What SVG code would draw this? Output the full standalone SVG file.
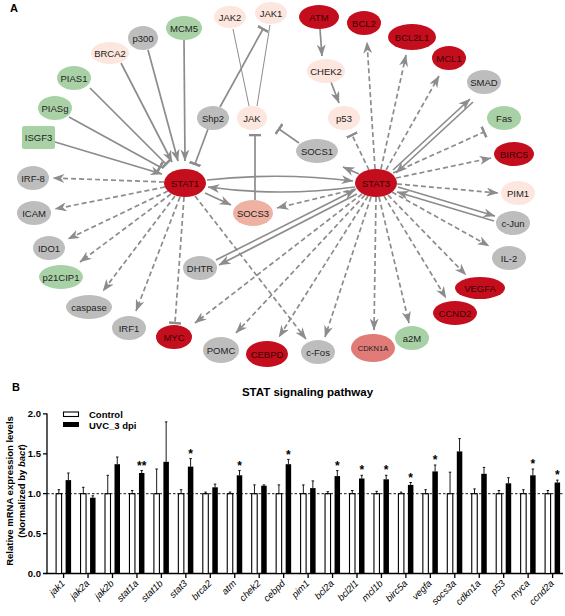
<svg xmlns="http://www.w3.org/2000/svg" width="565" height="616" viewBox="0 0 565 616">
<style>
text{font-family:"Liberation Sans",Arial,sans-serif}
.n text{font-size:9.5px;fill:#222;text-anchor:middle}
.red ellipse{fill:#c40e1e}
.red text{fill:#3a0000}
.pale ellipse{fill:#fde6dd}
.grn ellipse,.grn rect{fill:#a9d1a6}
.gry ellipse{fill:#bdbdbd}
.s{stroke:#8c8c8c;stroke-width:1.7;fill:none}
.t{stroke:#8c8c8c;stroke-width:1;fill:none}
.d{stroke:#8c8c8c;stroke-width:1.7;fill:none;stroke-dasharray:5 3}
.ar{marker-end:url(#arr)}
.tb{marker-end:url(#tbar)}
.ax{stroke:#000;stroke-width:1.3;fill:none}
.cb{fill:#fff;stroke:#000;stroke-width:1.1}
.tbk{fill:#000}
.eb{stroke:#000;stroke-width:0.9;fill:none}
.tl{font-size:9.5px;font-weight:bold;text-anchor:end}
.xl{font-size:9.5px;font-style:italic;text-anchor:end}
.st{font-size:12px;font-weight:bold;text-anchor:middle}
</style>
<defs>
<marker id="arr" viewBox="0 0 12 9" markerWidth="12" markerHeight="9" refX="11.5" refY="4.5" orient="auto" markerUnits="userSpaceOnUse">
<path d="M0,0 L12,4.5 L0,9 L3.5,4.5 Z" fill="#8c8c8c" stroke="none"/>
</marker>
<marker id="tbar" viewBox="0 0 3 12" markerWidth="3" markerHeight="12" refX="1.5" refY="6" orient="auto" markerUnits="userSpaceOnUse">
<path d="M1.5,0 L1.5,12" stroke="#8c8c8c" stroke-width="2.6" fill="none"/>
</marker>
</defs>
<text x="10" y="12" style="font-size:11px;font-weight:bold">A</text>
<g id="connectors">
<path class="s ar" d="M55,142 L162,174"/>
<path class="s tb" d="M69,117 L160,167"/>
<path class="s tb" d="M90,88 L166,164"/>
<path class="s ar" d="M121,63 L172,162"/>
<path class="s ar" d="M148,50 L178,161"/>
<path class="s ar" d="M184,40 L185,161"/>
<path class="s tb" d="M208,129 L195,164"/>
<path class="t" d="M249,106 L233,29"/>
<path class="t" d="M257,106 L270,25"/>
<path class="s tb" d="M220,107 L263,29"/>
<path class="s tb" d="M299,143 L279,129"/>
<path class="s tb" d="M255,200 L255,135"/>
<path class="s ar" d="M205,193 L231,205"/>
<path class="s ar" d="M207,180 Q280,172 353,181"/>
<path class="s ar" d="M355,187 Q280,197 208,187"/>
<path class="s ar" d="M359,174 L343,167"/>
<path class="s ar" d="M320,29 L322,56"/>
<path class="s ar" d="M331,82 L339,103"/>
<path class="s ar" d="M357,194 L219,265"/>
<path class="s ar" d="M216,260 L355,190"/>
<path class="s ar" d="M393,170 L470,99"/>
<path class="s ar" d="M473,102 L396,173"/>
<path class="s ar" d="M398,187 L495,216"/>
<path class="s ar" d="M494,221 L397,192"/>
<path class="d ar" d="M164,182 L53,178"/>
<path class="d ar" d="M165,187 L55,209"/>
<path class="d ar" d="M168,191 L68,239"/>
<path class="d ar" d="M171,194 L80,262"/>
<path class="d ar" d="M175,196 L103,291"/>
<path class="d ar" d="M180,197 L136,311"/>
<path class="d tb" d="M184,197 L175,323"/>
<path class="d ar" d="M195,196 L306,339"/>
<path class="d ar" d="M356,189 L277,208"/>
<path class="d ar" d="M362,194 L195,323"/>
<path class="d ar" d="M365,195 L236,333"/>
<path class="d ar" d="M368,196 L279,337"/>
<path class="d ar" d="M371,197 L325,337"/>
<path class="d ar" d="M376,197 L374,330"/>
<path class="d ar" d="M379,197 L409,323"/>
<path class="d ar" d="M384,196 L446,298"/>
<path class="d ar" d="M388,195 L466,275"/>
<path class="d ar" d="M392,192 L489,246"/>
<path class="d ar" d="M397,184 L498,193"/>
<path class="d ar" d="M396,178 L491,158"/>
<path class="d tb" d="M393,173 L484,132"/>
<path class="d ar" d="M386,170 L439,76"/>
<path class="d ar" d="M381,169 L406,55"/>
<path class="d ar" d="M375,169 L367,42"/>
<path class="d tb" d="M369,170 L352,135"/>
</g>
<g class="n">
<g id="JAK2" class="pale"><ellipse cx="230" cy="17" rx="16" ry="11"/><text x="230" y="20.5">JAK2</text></g>
<g id="JAK1" class="pale"><ellipse cx="271" cy="13" rx="16" ry="11"/><text x="271" y="16.5">JAK1</text></g>
<g id="MCM5" class="grn"><ellipse cx="184" cy="28" rx="18" ry="12"/><text x="184" y="31.5">MCM5</text></g>
<g id="p300" class="gry"><ellipse cx="143" cy="38" rx="15" ry="12"/><text x="143" y="41.5">p300</text></g>
<g id="BRCA2" class="pale"><ellipse cx="110" cy="53" rx="19" ry="11"/><text x="110" y="56.5">BRCA2</text></g>
<g id="PIAS1" class="grn"><ellipse cx="74" cy="78" rx="17" ry="12"/><text x="74" y="81.5">PIAS1</text></g>
<g id="PIASg" class="grn"><ellipse cx="55" cy="108" rx="17" ry="12"/><text x="55" y="111.5">PIASg</text></g>
<g id="ISGF3" class="grn"><rect x="22" y="126" width="33" height="23" rx="2"/><text x="38.5" y="141">ISGF3</text></g>
<g id="Shp2" class="gry"><ellipse cx="213" cy="118" rx="16" ry="12"/><text x="213" y="121.5">Shp2</text></g>
<g id="JAK" class="pale"><ellipse cx="252" cy="118" rx="15" ry="12"/><text x="252" y="121.5">JAK</text></g>
<g id="IRF-8" class="gry"><ellipse cx="33" cy="178" rx="16" ry="12"/><text x="33" y="181.5">IRF-8</text></g>
<g id="STAT1" class="red"><ellipse cx="185" cy="183" rx="21" ry="14"/><text x="185" y="186.5">STAT1</text></g>
<g id="ICAM" class="gry"><ellipse cx="34" cy="213" rx="17" ry="12"/><text x="34" y="216.5">ICAM</text></g>
<g id="IDO1" class="gry"><ellipse cx="49" cy="248" rx="16" ry="12"/><text x="49" y="251.5">IDO1</text></g>
<g id="p21CIP1" class="grn"><ellipse cx="61" cy="277" rx="22" ry="12"/><text x="61" y="280.5">p21CIP1</text></g>
<g id="caspase" class="gry"><ellipse cx="89" cy="307" rx="23" ry="12"/><text x="89" y="310.5">caspase</text></g>
<g id="IRF1" class="gry"><ellipse cx="129" cy="328" rx="17" ry="12"/><text x="129" y="331.5">IRF1</text></g>
<g id="MYC" class="red"><ellipse cx="174" cy="337" rx="18" ry="12"/><text x="174" y="340.5">MYC</text></g>
<g id="POMC" class="gry"><ellipse cx="221" cy="350" rx="18" ry="13"/><text x="221" y="353.5">POMC</text></g>
<g id="CEBPD" class="red"><ellipse cx="267" cy="354" rx="21" ry="13"/><text x="267" y="357.5">CEBPD</text></g>
<g id="c-Fos" class="gry"><ellipse cx="318" cy="352" rx="17" ry="12"/><text x="318" y="355.5">c-Fos</text></g>
<g id="CDKN1A"><ellipse cx="373" cy="348" rx="22" ry="14" fill="#e07b77"/><text x="373" y="351" style="font-size:7.5px">CDKN1A</text></g>
<g id="a2M" class="grn"><ellipse cx="412" cy="338" rx="17" ry="12"/><text x="412" y="341.5">a2M</text></g>
<g id="CCND2" class="red"><ellipse cx="455" cy="313" rx="22" ry="12"/><text x="455" y="316.5">CCND2</text></g>
<g id="VEGFA" class="red"><ellipse cx="480" cy="288" rx="25" ry="11"/><text x="480" y="291.5">VEGFA</text></g>
<g id="IL-2" class="gry"><ellipse cx="509" cy="258" rx="17" ry="12"/><text x="509" y="261.5">IL-2</text></g>
<g id="c-Jun" class="gry"><ellipse cx="513" cy="223" rx="17" ry="12"/><text x="513" y="226.5">c-Jun</text></g>
<g id="PIM1" class="pale"><ellipse cx="518" cy="193" rx="17" ry="12"/><text x="518" y="196.5">PIM1</text></g>
<g id="BIRC5" class="red"><ellipse cx="514" cy="154" rx="20" ry="12"/><text x="514" y="157.5">BIRC5</text></g>
<g id="Fas" class="grn"><ellipse cx="504" cy="118" rx="17" ry="12"/><text x="504" y="121.5">Fas</text></g>
<g id="SMAD" class="gry"><ellipse cx="484" cy="82" rx="17" ry="12"/><text x="484" y="85.5">SMAD</text></g>
<g id="MCL1" class="red"><ellipse cx="449" cy="58" rx="17" ry="12"/><text x="449" y="61.5">MCL1</text></g>
<g id="BCL2L1" class="red"><ellipse cx="412" cy="37" rx="24" ry="13"/><text x="412" y="40.5">BCL2L1</text></g>
<g id="BCL2" class="red"><ellipse cx="364" cy="23" rx="17" ry="12"/><text x="364" y="26.5">BCL2</text></g>
<g id="ATM" class="red"><ellipse cx="319" cy="17" rx="20" ry="12"/><text x="319" y="20.5">ATM</text></g>
<g id="CHEK2" class="pale"><ellipse cx="326" cy="71" rx="19" ry="12"/><text x="326" y="74.5">CHEK2</text></g>
<g id="p53" class="pale"><ellipse cx="344" cy="118" rx="16" ry="12"/><text x="344" y="121.5">p53</text></g>
<g id="SOCS1" class="gry"><ellipse cx="317" cy="151" rx="21" ry="12"/><text x="317" y="154.5">SOCS1</text></g>
<g id="STAT3" class="red"><ellipse cx="376" cy="183" rx="21" ry="14"/><text x="376" y="186.5">STAT3</text></g>
<g id="SOCS3"><ellipse cx="253" cy="213" rx="20" ry="13" fill="#eeb1a2"/><text x="253" y="216.5">SOCS3</text></g>
<g id="DHTR" class="gry"><ellipse cx="200" cy="268" rx="17" ry="12"/><text x="200" y="271.5">DHTR</text></g>
</g>
<g id="chart">
<text x="12" y="391" style="font-size:11px;font-weight:bold">B</text>
<text x="307.5" y="396" style="font-size:11.5px;font-weight:bold;text-anchor:middle">STAT signaling pathway</text>
<text transform="translate(13,491) rotate(-90)" style="font-size:9.5px;font-weight:bold;text-anchor:middle">Relative mRNA expression levels</text>
<text transform="translate(25,491) rotate(-90)" style="font-size:9.5px;font-weight:bold;text-anchor:middle">(Normalized by <tspan font-style="italic">bact</tspan>)</text>
<rect x="63.5" y="412" width="15" height="4.5" class="cb"/>
<text x="89" y="417.5" style="font-size:9.5px;font-weight:bold">Control</text>
<rect x="63" y="422" width="16" height="5" class="tbk"/>
<text x="89" y="428.5" style="font-size:9.5px;font-weight:bold">UVC_3 dpi</text>
<path class="ax" d="M47,413.5 L47,573.5 L563,573.5"/>
<path class="ax" d="M43,413.9 H47 M43,453.8 H47 M43,493.7 H47 M43,533.6 H47 M43,573.5 H47"/>
<text class="tl" x="41" y="417">2.0</text>
<text class="tl" x="41" y="457">1.5</text>
<text class="tl" x="41" y="497">1.0</text>
<text class="tl" x="41" y="537">0.5</text>
<text class="tl" x="41" y="577">0.0</text>
<g id="bars">
<rect class="cb" x="56.1" y="493.7" width="5.5" height="79.8"/><rect class="tbk" x="65.6" y="480.1" width="5.5" height="93.4"/><path class="eb" d="M58.85,493.7V489.7M57.6,489.7H60.1M68.35,480.1V473M67.1,473H69.6"/>
<rect class="cb" x="80.55" y="493.7" width="5.5" height="79.8"/><rect class="tbk" x="90.05" y="497.7" width="5.5" height="75.8"/><path class="eb" d="M83.3,493.7V487.3M82.05,487.3H84.55M92.8,497.7V495.8M91.55,495.8H94.05"/>
<rect class="cb" x="105" y="493.7" width="5.5" height="79.8"/><rect class="tbk" x="114.5" y="464.2" width="5.5" height="109.3"/><path class="eb" d="M107.75,493.7V475.3M106.5,475.3H109M117.25,464.2V457M116,457H118.5"/>
<rect class="cb" x="129.45" y="493.7" width="5.5" height="79.8"/><rect class="tbk" x="138.95" y="473" width="5.5" height="100.5"/><path class="eb" d="M132.2,493.7V490.5M130.95,490.5H133.45M141.7,473V470.6M140.45,470.6H142.95"/>
<rect class="cb" x="153.9" y="493.7" width="5.5" height="79.8"/><rect class="tbk" x="163.4" y="461.8" width="5.5" height="111.7"/><path class="eb" d="M156.65,493.7V469M155.4,469H157.9M166.15,461.8V421.9M164.9,421.9H167.4"/>
<rect class="cb" x="178.35" y="493.7" width="5.5" height="79.8"/><rect class="tbk" x="187.85" y="466.6" width="5.5" height="106.9"/><path class="eb" d="M181.1,493.7V489.7M179.85,489.7H182.35M190.6,466.6V458.6M189.35,458.6H191.85"/>
<rect class="cb" x="202.8" y="493.7" width="5.5" height="79.8"/><rect class="tbk" x="212.3" y="487.3" width="5.5" height="86.2"/><path class="eb" d="M205.55,493.7V492.1M204.3,492.1H206.8M215.05,487.3V484.1M213.8,484.1H216.3"/>
<rect class="cb" x="227.25" y="493.7" width="5.5" height="79.8"/><rect class="tbk" x="236.75" y="475.3" width="5.5" height="98.2"/><path class="eb" d="M230,493.7V492.1M228.75,492.1H231.25M239.5,475.3V470.6M238.25,470.6H240.75"/>
<rect class="cb" x="251.7" y="493.7" width="5.5" height="79.8"/><rect class="tbk" x="261.2" y="485.7" width="5.5" height="87.8"/><path class="eb" d="M254.45,493.7V484.9M253.2,484.9H255.7M263.95,485.7V484.9M262.7,484.9H265.2"/>
<rect class="cb" x="276.15" y="493.7" width="5.5" height="79.8"/><rect class="tbk" x="285.65" y="464.2" width="5.5" height="109.3"/><path class="eb" d="M278.9,493.7V484.9M277.65,484.9H280.15M288.4,464.2V459.4M287.15,459.4H289.65"/>
<rect class="cb" x="300.6" y="493.7" width="5.5" height="79.8"/><rect class="tbk" x="310.1" y="488.1" width="5.5" height="85.4"/><path class="eb" d="M303.35,493.7V484.9M302.1,484.9H304.6M312.85,488.1V480.9M311.6,480.9H314.1"/>
<rect class="cb" x="325.05" y="493.7" width="5.5" height="79.8"/><rect class="tbk" x="334.55" y="476.1" width="5.5" height="97.4"/><path class="eb" d="M327.8,493.7V491.7M326.55,491.7H329.05M337.3,476.1V470.6M336.05,470.6H338.55"/>
<rect class="cb" x="349.5" y="493.7" width="5.5" height="79.8"/><rect class="tbk" x="359" y="478.5" width="5.5" height="95"/><path class="eb" d="M352.25,493.7V490.5M351,490.5H353.5M361.75,478.5V475.3M360.5,475.3H363"/>
<rect class="cb" x="373.95" y="493.7" width="5.5" height="79.8"/><rect class="tbk" x="383.45" y="479.3" width="5.5" height="94.2"/><path class="eb" d="M376.7,493.7V491.3M375.45,491.3H377.95M386.2,479.3V475.3M384.95,475.3H387.45"/>
<rect class="cb" x="398.4" y="493.7" width="5.5" height="79.8"/><rect class="tbk" x="407.9" y="484.9" width="5.5" height="88.6"/><path class="eb" d="M401.15,493.7V492.1M399.9,492.1H402.4M410.65,484.9V482.5M409.4,482.5H411.9"/>
<rect class="cb" x="422.85" y="493.7" width="5.5" height="79.8"/><rect class="tbk" x="432.35" y="471.4" width="5.5" height="102.1"/><path class="eb" d="M425.6,493.7V489.7M424.35,489.7H426.85M435.1,471.4V465M433.85,465H436.35"/>
<rect class="cb" x="447.3" y="493.7" width="5.5" height="79.8"/><rect class="tbk" x="456.8" y="451.4" width="5.5" height="122.1"/><path class="eb" d="M450.05,493.7V472.2M448.8,472.2H451.3M459.55,451.4V438.6M458.3,438.6H460.8"/>
<rect class="cb" x="471.75" y="493.7" width="5.5" height="79.8"/><rect class="tbk" x="481.25" y="473.8" width="5.5" height="99.7"/><path class="eb" d="M474.5,493.7V488.9M473.25,488.9H475.75M484,473.8V467.4M482.75,467.4H485.25"/>
<rect class="cb" x="496.2" y="493.7" width="5.5" height="79.8"/><rect class="tbk" x="505.7" y="483.3" width="5.5" height="90.2"/><path class="eb" d="M498.95,493.7V490.5M497.7,490.5H500.2M508.45,483.3V477.7M507.2,477.7H509.7"/>
<rect class="cb" x="520.65" y="493.7" width="5.5" height="79.8"/><rect class="tbk" x="530.15" y="475.3" width="5.5" height="98.2"/><path class="eb" d="M523.4,493.7V489.7M522.15,489.7H524.65M532.9,475.3V469M531.65,469H534.15"/>
<rect class="cb" x="545.1" y="493.7" width="5.5" height="79.8"/><rect class="tbk" x="554.6" y="482.5" width="5.5" height="91"/><path class="eb" d="M547.85,493.7V490.5M546.6,490.5H549.1M557.35,482.5V480.1M556.1,480.1H558.6"/>
</g>
<path d="M47,493.7 H563" stroke="#000" stroke-width="0.9" stroke-dasharray="2.5 2" fill="none"/>
<g id="stars">
<text class="st" x="141.7" y="470">**</text>
<text class="st" x="190.6" y="457.5">*</text>
<text class="st" x="239.5" y="469.5">*</text>
<text class="st" x="288.4" y="458.5">*</text>
<text class="st" x="337.3" y="469.5">*</text>
<text class="st" x="361.75" y="474">*</text>
<text class="st" x="386.2" y="474">*</text>
<text class="st" x="410.65" y="481.5">*</text>
<text class="st" x="435.1" y="464">*</text>
<text class="st" x="532.9" y="468">*</text>
<text class="st" x="557.35" y="479">*</text>
</g>
<path class="ax" d="M63.6,573.5V578 M88.05,573.5V578 M112.5,573.5V578 M136.95,573.5V578 M161.4,573.5V578 M185.85,573.5V578 M210.3,573.5V578 M234.75,573.5V578 M259.2,573.5V578 M283.65,573.5V578 M308.1,573.5V578 M332.55,573.5V578 M357,573.5V578 M381.45,573.5V578 M405.9,573.5V578 M430.35,573.5V578 M454.8,573.5V578 M479.25,573.5V578 M503.7,573.5V578 M528.15,573.5V578 M552.6,573.5V578"/>
<g id="xlabels">
<text class="xl" transform="translate(65.6,584) rotate(-45)">jak1</text>
<text class="xl" transform="translate(90.05,584) rotate(-45)">jak2a</text>
<text class="xl" transform="translate(114.5,584) rotate(-45)">jak2b</text>
<text class="xl" transform="translate(138.95,584) rotate(-45)">stat1a</text>
<text class="xl" transform="translate(163.4,584) rotate(-45)">stat1b</text>
<text class="xl" transform="translate(187.85,584) rotate(-45)">stat3</text>
<text class="xl" transform="translate(212.3,584) rotate(-45)">brca2</text>
<text class="xl" transform="translate(236.75,584) rotate(-45)">atm</text>
<text class="xl" transform="translate(261.2,584) rotate(-45)">chek2</text>
<text class="xl" transform="translate(285.65,584) rotate(-45)">cebpd</text>
<text class="xl" transform="translate(310.1,584) rotate(-45)">pim1</text>
<text class="xl" transform="translate(334.55,584) rotate(-45)">bcl2a</text>
<text class="xl" transform="translate(359,584) rotate(-45)">bcl2l1</text>
<text class="xl" transform="translate(383.45,584) rotate(-45)">mcl1b</text>
<text class="xl" transform="translate(407.9,584) rotate(-45)">birc5a</text>
<text class="xl" transform="translate(432.35,584) rotate(-45)">vegfa</text>
<text class="xl" transform="translate(456.8,584) rotate(-45)">socs3a</text>
<text class="xl" transform="translate(481.25,584) rotate(-45)">cdkn1a</text>
<text class="xl" transform="translate(505.7,584) rotate(-45)">p53</text>
<text class="xl" transform="translate(530.15,584) rotate(-45)">myca</text>
<text class="xl" transform="translate(554.6,584) rotate(-45)">ccnd2a</text>
</g>
</g>
</svg>
